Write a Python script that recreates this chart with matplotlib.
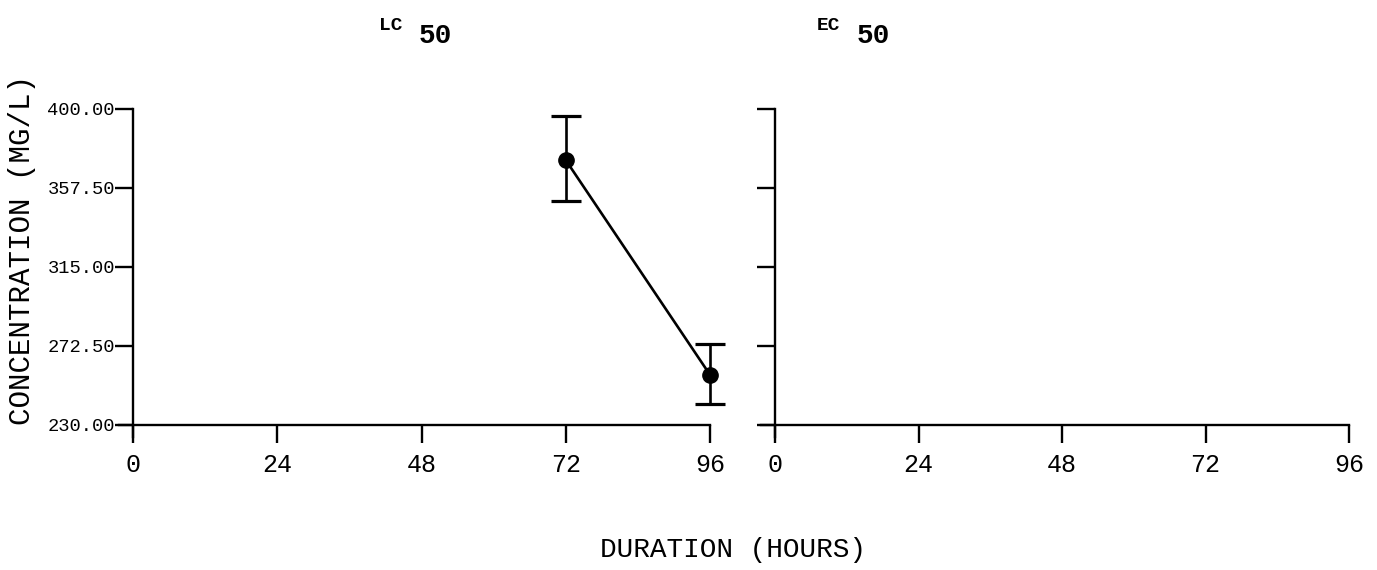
import matplotlib
matplotlib.use("Agg")
import matplotlib.pyplot as plt

# Data
hours = [72, 96]
lc50 = [372.5, 257.0]
lc50_lower = [350.5, 241.5]
lc50_upper = [396.5, 273.5]
x_ticks = [0, 24, 48, 72, 96]
y_ticks = [230.00, 272.50, 315.00, 357.50, 400.00]
y_ticklabels = ["230.00", "272.50", "315.00", "357.50", "400.00"]

FONT = "Liberation Mono"
plt.rcParams['font.family'] = FONT

W, H = 1377, 570
fig = plt.figure(figsize=(W / 100, H / 100), dpi=100)

XMIN, XMAX = -2.3, 96
YMIN, YMAX = 223.5, 400

def make_axes(x0_px, x96_px):
    sx = (x96_px - x0_px) / 96.0
    sy = (425 - 109) / 170.0
    left = x0_px + XMIN * sx
    width = (XMAX - XMIN) * sx
    bottom = 425 + (230 - YMIN) * sy
    height = (YMAX - YMIN) * sy
    return fig.add_axes([left / W, 1 - bottom / H, width / W, height / H])

axL = make_axes(133, 710)
axR = make_axes(775, 1349)

def style(ax, show_ylabels):
    ax.set_xlim(XMIN, XMAX)
    ax.set_ylim(YMIN, YMAX)
    for s in ["top", "right"]:
        ax.spines[s].set_visible(False)
    ax.spines["left"].set_position(("data", 0))
    ax.spines["bottom"].set_position(("data", 230))
    ax.spines["left"].set_linewidth(1.7)
    ax.spines["bottom"].set_linewidth(1.7)
    ax.set_xticks(x_ticks)
    ax.set_xticklabels([str(v) for v in x_ticks], fontsize=18)
    ax.set_yticks(y_ticks)
    if show_ylabels:
        ax.set_yticklabels(y_ticklabels, fontsize=13.5)
    else:
        ax.set_yticklabels([])
    ax.tick_params(axis="x", direction="out", length=13, width=1.7, pad=7)
    ax.tick_params(axis="y", direction="out", length=13, width=1.7, pad=0)
    ax.patch.set_alpha(0)

style(axL, True)
style(axR, False)

yerr = [[v - lo for v, lo in zip(lc50, lc50_lower)],
        [hi - v for v, hi in zip(lc50, lc50_upper)]]
axL.errorbar(hours, lc50, yerr=yerr, color="black", marker="o", markersize=11,
             linewidth=1.9, elinewidth=1.9, capsize=11, capthick=2.3, clip_on=False)

# Titles
fig.text(391 / W, 1 - 25 / H, "LC", fontsize=14, fontweight="bold", ha="center", va="center")
fig.text(435 / W, 1 - 36 / H, "50", fontsize=20, fontweight="bold", ha="center", va="center")
fig.text(829 / W, 1 - 25 / H, "EC", fontsize=14, fontweight="bold", ha="center", va="center")
fig.text(873 / W, 1 - 36 / H, "50", fontsize=20, fontweight="bold", ha="center", va="center")

fig.text(733 / W, 1 - 550 / H, "DURATION (HOURS)", fontsize=20, ha="center", va="center")
fig.text(22 / W, 1 - 250 / H, "CONCENTRATION (MG/L)", fontsize=21, rotation=90,
         ha="center", va="center")

fig.savefig("out.png", dpi=100)
